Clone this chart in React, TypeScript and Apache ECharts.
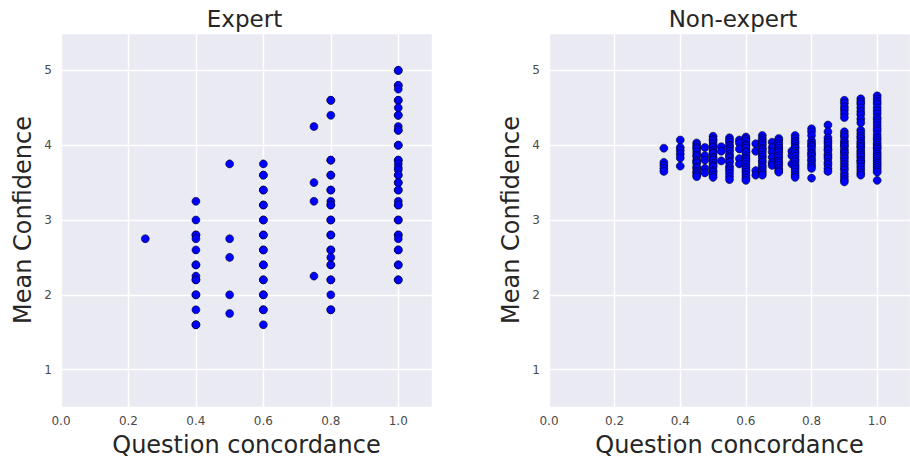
import React, { useEffect, useRef } from "react";
import * as echarts from "echarts";

// Expert raters: question concordance columns and the mean confidence of each question
const expertConcordance = [0.25, 0.4, 0.5, 0.6, 0.75, 0.8, 1.0];
const expertConfidence = [
  [2.75],
  [3.25, 3.0, 2.8, 2.8, 2.75, 2.6, 2.4, 2.4, 2.25, 2.2, 2.2, 2.0, 2.0, 1.8, 1.6, 1.6],
  [3.75, 2.75, 2.5, 2.0, 1.75],
  [3.75, 3.6, 3.6, 3.4, 3.4, 3.2, 3.2, 3.0, 3.0, 2.8, 2.8, 2.6, 2.6, 2.4, 2.4, 2.2, 2.2, 2.0, 2.0, 1.8, 1.8, 1.6],
  [4.25, 3.5, 3.25, 2.25],
  [4.6, 4.6, 4.4, 3.8, 3.8, 3.6, 3.6, 3.4, 3.4, 3.25, 3.2, 3.2, 3.0, 3.0, 2.8, 2.8, 2.6, 2.6, 2.5, 2.4, 2.4, 2.2, 2.2, 2.0, 1.8, 1.8],
  [5.0, 5.0, 4.8, 4.8, 4.75, 4.6, 4.6, 4.5, 4.4, 4.4, 4.25, 4.2, 4.2, 4.0, 4.0, 3.8, 3.8, 3.75, 3.7, 3.67, 3.6, 3.6, 3.5, 3.5, 3.4, 3.4, 3.25, 3.2, 3.2, 3.0, 3.0, 2.8, 2.8, 2.75, 2.6, 2.6, 2.4, 2.4, 2.2, 2.2],
];

// Non-expert raters
const nonExpertConcordance = [
  0.35, 0.4, 0.45, 0.475, 0.5, 0.525, 0.55, 0.58, 0.6, 0.63,
  0.65, 0.68, 0.7, 0.74, 0.75, 0.8, 0.85, 0.9, 0.95, 1.0,
];
const nonExpertConfidence = [
  [3.96, 3.77, 3.73, 3.69, 3.65],
  [4.07, 3.97, 3.93, 3.88, 3.83, 3.72],
  [4.03, 4.0, 3.97, 3.95, 3.91, 3.87, 3.85, 3.8, 3.78, 3.76, 3.71, 3.69, 3.65, 3.63, 3.6, 3.58],
  [3.97, 3.86, 3.8, 3.69, 3.63],
  [4.12, 4.08, 4.06, 4.02, 3.99, 3.97, 3.93, 3.9, 3.89, 3.84, 3.82, 3.8, 3.76, 3.73, 3.71, 3.66, 3.64, 3.6, 3.57],
  [3.98, 3.92, 3.79],
  [4.1, 4.07, 4.04, 4.0, 3.98, 3.95, 3.92, 3.88, 3.85, 3.83, 3.79, 3.77, 3.72, 3.69, 3.66, 3.62, 3.58, 3.54],
  [4.07, 4.03, 3.95, 3.82, 3.75],
  [4.11, 4.08, 4.05, 4.01, 3.99, 3.96, 3.92, 3.9, 3.86, 3.83, 3.81, 3.78, 3.74, 3.7, 3.67, 3.64, 3.6, 3.56, 3.53],
  [4.02, 3.92, 3.66, 3.6],
  [4.13, 4.09, 4.06, 4.03, 4.0, 3.96, 3.94, 3.91, 3.87, 3.84, 3.8, 3.77, 3.73, 3.7, 3.66, 3.63, 3.6],
  [4.04, 3.97, 3.91, 3.84, 3.77, 3.73],
  [4.09, 4.06, 4.02, 3.99, 3.96, 3.93, 3.9, 3.86, 3.83, 3.79, 3.76, 3.73, 3.69, 3.66, 3.64],
  [3.92, 3.86, 3.75],
  [4.13, 4.09, 4.05, 4.02, 3.98, 3.96, 3.92, 3.89, 3.85, 3.81, 3.78, 3.74, 3.71, 3.68, 3.64, 3.6, 3.57],
  [4.22, 4.18, 4.13, 4.06, 4.03, 4.0, 3.98, 3.94, 3.9, 3.88, 3.85, 3.81, 3.79, 3.75, 3.72, 3.69, 3.56],
  [4.27, 4.18, 4.1, 4.06, 4.03, 3.99, 3.95, 3.93, 3.88, 3.85, 3.82, 3.77, 3.74, 3.69, 3.65],
  [4.6, 4.56, 4.51, 4.47, 4.42, 4.37, 4.18, 4.14, 4.11, 4.06, 4.03, 4.0, 3.98, 3.94, 3.91, 3.89, 3.85, 3.82, 3.78, 3.74, 3.7, 3.67, 3.62, 3.58, 3.54, 3.51],
  [4.62, 4.58, 4.55, 4.5, 4.45, 4.41, 4.35, 4.3, 4.2, 4.16, 4.12, 4.09, 4.05, 4.02, 3.99, 3.97, 3.93, 3.9, 3.87, 3.84, 3.8, 3.78, 3.75, 3.71, 3.67, 3.63, 3.6],
  [4.66, 4.62, 4.58, 4.55, 4.5, 4.46, 4.42, 4.37, 4.34, 4.3, 4.26, 4.22, 4.19, 4.14, 4.1, 4.07, 4.03, 4.0, 3.97, 3.95, 3.91, 3.88, 3.85, 3.82, 3.79, 3.76, 3.73, 3.7, 3.67, 3.64, 3.53],
];

const panelTitles = ["Expert", "Non-expert"];
const xAxisTitle = "Question concordance";
const yAxisTitle = "Mean Confidence";

const FONT = "DejaVu Sans";
const TEXT_DARK = "#262626";
const TICK_COLOR = "#4a4a4a";

function toPoints(xs: number[], ys: number[][]) {
  return xs.flatMap((x, i) => ys[i].map((y) => [x, y]));
}

export default function App() {
  const ref = useRef<HTMLDivElement>(null);

  useEffect(() => {
    if (!ref.current) return;
    const chart = echarts.init(ref.current, undefined, { renderer: "svg" });

    const grids = [
      { left: 61, top: 33, width: 371, height: 374 },
      { left: 549, top: 33, width: 372, height: 374 },
    ];

    const xAxis = grids.map((_, i) => ({
      type: "value" as const,
      gridIndex: i,
      min: 0,
      max: 1.1,
      interval: 0.2,
      name: xAxisTitle,
      nameLocation: "middle" as const,
      nameGap: 26,
      nameTextStyle: { fontFamily: FONT, fontSize: 24, color: TEXT_DARK },
      axisLine: { show: false },
      axisTick: { show: false },
      axisLabel: {
        fontFamily: FONT,
        fontSize: 12,
        color: TICK_COLOR,
        margin: 8,
        showMaxLabel: false,
        formatter: (v: number) => v.toFixed(1),
      },
      splitLine: { show: true, lineStyle: { color: "#ffffff", width: 1.4 } },
    }));

    const yAxis = grids.map((_, i) => ({
      type: "value" as const,
      gridIndex: i,
      min: 0.5,
      max: 5.5,
      splitNumber: 5,
      name: yAxisTitle,
      nameLocation: "middle" as const,
      nameGap: 26,
      nameTextStyle: { fontFamily: FONT, fontSize: 24, color: TEXT_DARK },
      axisLine: { show: false },
      axisTick: { show: false },
      axisLabel: {
        fontFamily: FONT,
        fontSize: 12,
        color: TICK_COLOR,
        margin: 9,
        showMinLabel: false,
        showMaxLabel: false,
      },
      splitLine: { show: true, lineStyle: { color: "#ffffff", width: 1.4 } },
    }));

    const markerStyle = {
      color: "#0000ff",
      opacity: 1,
      borderColor: "rgba(0,0,0,0.75)",
      borderWidth: 0.7,
    };

    chart.setOption({
      animation: false,
      backgroundColor: "#ffffff",
      title: grids.map((g, i) => ({
        text: panelTitles[i],
        left: g.left + g.width / 2 - 2,
        top: 7,
        padding: 0,
        textAlign: "center",
        textStyle: { fontFamily: FONT, fontSize: 23, fontWeight: "normal", color: TEXT_DARK },
      })),
      grid: grids.map((g) => ({
        ...g,
        show: true,
        backgroundColor: "#EAEAF2",
        borderWidth: 0,
        containLabel: false,
      })),
      xAxis,
      yAxis,
      series: [
        {
          type: "scatter",
          xAxisIndex: 0,
          yAxisIndex: 0,
          symbolSize: 8,
          itemStyle: markerStyle,
          data: toPoints(expertConcordance, expertConfidence),
        },
        {
          type: "scatter",
          xAxisIndex: 1,
          yAxisIndex: 1,
          symbolSize: 8,
          itemStyle: markerStyle,
          data: toPoints(nonExpertConcordance, nonExpertConfidence),
        },
      ],
    });

    return () => chart.dispose();
  }, []);

  return (
    <div
      ref={ref}
      style={{ position: "fixed", left: 0, top: 0, width: 910, height: 462 }}
    />
  );
}
